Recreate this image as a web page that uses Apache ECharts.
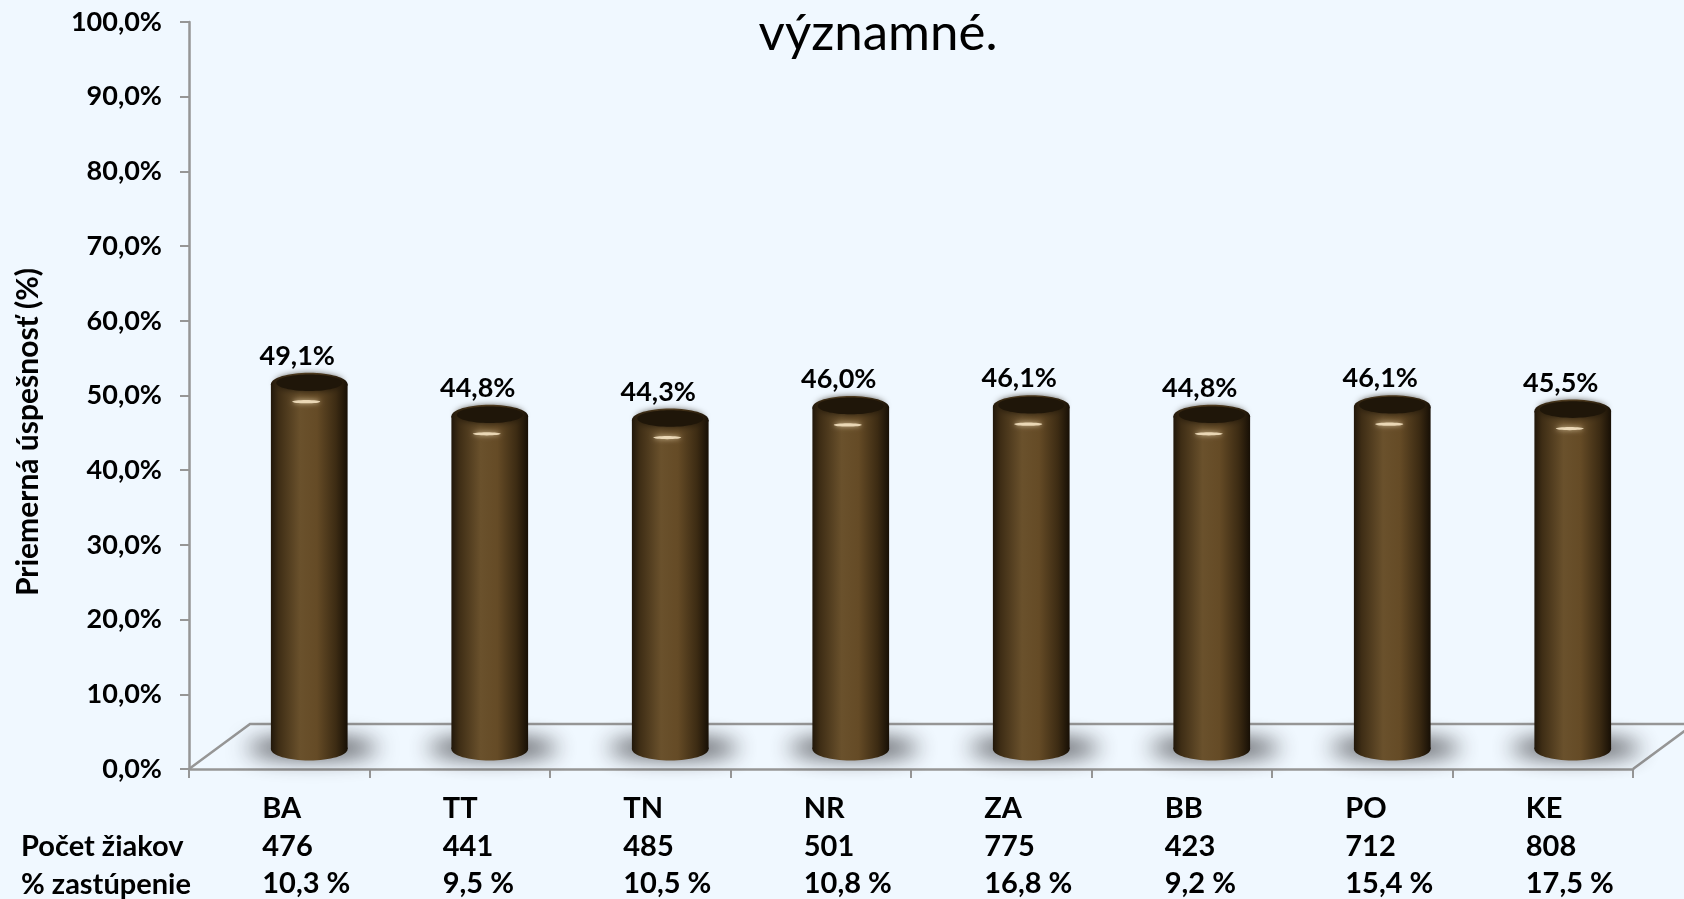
<!DOCTYPE html>
<html><head><meta charset="utf-8">
<script src="https://cdn.jsdelivr.net/npm/echarts@6/dist/echarts.min.js"></script>
<style>html,body{margin:0;padding:0;background:#f0f8ff;}#c{width:1684px;height:899px;}</style>
</head><body><div id="c"></div>
<script>
const categories = ['BA','TT','TN','NR','ZA','BB','PO','KE'];
const successPct = [49.1, 44.8, 44.3, 46.0, 46.1, 44.8, 46.1, 45.5];
const studentCounts = [476, 441, 485, 501, 775, 423, 712, 808];
const sharePct = [10.3, 9.5, 10.5, 10.8, 16.8, 9.2, 15.4, 17.5];
const yTickMin = 0, yTickMax = 100, yTickStep = 10;
const titleText = 'významné.';
const yAxisTitle = 'Priemerná úspešnosť (%)';
const rowTitles = ['Počet žiakov', '% zastúpenie'];

const FONT = 'Lato, Carlito, "Open Sans", sans-serif';
const fmtComma = (v, d) => v.toFixed(d).replace('.', ',');

const chart = echarts.init(document.getElementById('c'), null, {renderer: 'canvas'});

// 3D depth offsets (style)
const FLOOR_DX = 61, FLOOR_DY = -45;
const BAR_DX = 30, BAR_DY = -18;
const frontGrid = {left: 189, right: 51, top: 22, bottom: 130};
const AXIS_COLOR = '#969696';

function floorItem(params, api) {
  if (params.dataIndex !== 0) return null;
  const band = api.size([1, 0])[0];
  const p0 = api.coord([0, 0]);
  const p1 = api.coord([categories.length - 1, 0]);
  const xl = p0[0] - band / 2, xr = p1[0] + band / 2, y = p0[1];
  return {
    type: 'polyline',
    shape: {points: [[xl, y], [xl + FLOOR_DX, y + FLOOR_DY], [xr + FLOOR_DX, y + FLOOR_DY], [xr, y]]},
    style: {stroke: AXIS_COLOR, lineWidth: 2.5, fill: null}
  };
}

const bodyGrad = () => new echarts.graphic.LinearGradient(0, 0, 1, 0, [
  {offset: 0, color: '#21170a'},
  {offset: 0.1, color: '#3e2d15'},
  {offset: 0.38, color: '#6a512c'},
  {offset: 0.6, color: '#654b26'},
  {offset: 0.85, color: '#3c2b13'},
  {offset: 1, color: '#170f05'}
]);

function cylinderItem(params, api) {
  const i = api.value(0);
  const v = api.value(1);
  const band = api.size([1, 0])[0];
  const w = band * 0.425;
  const rx = w / 2, ry = 11.5;
  const top = api.coord([i, v]);
  const base = api.coord([i, 0]);
  const cx = top[0];
  const OFF = 4000;
  const children = [];
  // floor shadow (drawn off-canvas, only its blurred shadow lands on the floor)
  children.push({
    type: 'ellipse',
    shape: {cx: cx + 3 - OFF, cy: base[1] - 3, rx: rx * 1.7, ry: 9},
    style: {fill: '#000', shadowBlur: 22, shadowColor: 'rgba(45,45,50,0.95)', shadowOffsetX: OFF}
  });
  // bottom cap
  children.push({type: 'ellipse', shape: {cx: cx, cy: base[1] - 2, rx: rx, ry: ry}, style: {fill: bodyGrad()}});
  // body
  children.push({type: 'rect', shape: {x: cx - rx, y: top[1], width: w, height: base[1] - 2 - top[1]}, style: {fill: bodyGrad()}});
  // top cap (rounded bevel look)
  children.push({type: 'ellipse', shape: {cx: cx, cy: top[1], rx: rx, ry: ry}, style: {fill: bodyGrad()}});
  children.push({
    type: 'ellipse', shape: {cx: cx, cy: top[1] - 1.5, rx: rx * 0.86, ry: ry * 0.72},
    style: {fill: '#1f1609', shadowBlur: 7, shadowColor: '#1f1609'}
  });
  // highlight streak
  children.push({
    type: 'ellipse', shape: {cx: cx - 3, cy: top[1] + ry + 6, rx: 14, ry: 1.6},
    style: {fill: 'rgba(255,238,205,0.8)', shadowBlur: 5, shadowColor: 'rgba(255,235,200,0.9)'}
  });
  // value label
  children.push({
    type: 'text',
    style: {x: cx - 12, y: top[1] - ry - 3, text: fmtComma(v, 1) + '%', align: 'center', verticalAlign: 'bottom',
      font: 'bold 27px ' + FONT, fill: '#000'}
  });
  // table labels under the axis
  const tx = cx - 47;
  const ty = base[1] + 58;
  const rows = [categories[i], String(studentCounts[i]), fmtComma(sharePct[i], 1) + ' %'];
  rows.forEach((t, k) => {
    children.push({
      type: 'text',
      style: {x: tx, y: ty + k * 37.5, text: t, align: 'left', verticalAlign: 'middle',
        font: 'bold 29px ' + FONT, fill: '#000'}
    });
  });
  return {type: 'group', children: children};
}

const option = {
  backgroundColor: '#f0f8ff',
  animation: false,
  grid: [
    Object.assign({}, frontGrid),
    {left: frontGrid.left + BAR_DX, right: frontGrid.right - BAR_DX, top: frontGrid.top + BAR_DY, bottom: frontGrid.bottom - BAR_DY}
  ],
  xAxis: [
    {type: 'category', gridIndex: 0, data: categories, boundaryGap: true,
      axisLine: {lineStyle: {color: AXIS_COLOR, width: 2.5}},
      axisTick: {show: true, length: 9, lineStyle: {color: AXIS_COLOR, width: 2}},
      axisLabel: {show: false}, splitLine: {show: false}},
    {type: 'category', gridIndex: 1, data: categories, boundaryGap: true, show: false}
  ],
  yAxis: [
    {type: 'value', gridIndex: 0, min: yTickMin, max: yTickMax, interval: yTickStep,
      axisLine: {show: true, lineStyle: {color: AXIS_COLOR, width: 2.5}},
      axisTick: {show: true, length: 9, lineStyle: {color: AXIS_COLOR, width: 2}},
      splitLine: {show: false},
      axisLabel: {margin: 27, formatter: v => fmtComma(v, 1) + '%', fontFamily: FONT, fontWeight: 'bold', fontSize: 27, color: '#000'}},
    {type: 'value', gridIndex: 1, min: yTickMin, max: yTickMax, interval: yTickStep, show: false}
  ],
  series: [
    {type: 'custom', xAxisIndex: 0, yAxisIndex: 0, data: [[0, 0]], renderItem: floorItem, z: 1, silent: true},
    {type: 'custom', xAxisIndex: 1, yAxisIndex: 1, z: 5, clip: false,
      data: successPct.map((v, i) => [i, v]), renderItem: cylinderItem}
  ],
  graphic: [
    {type: 'text', x: 878, y: 34, z: 10,
      style: {text: titleText, align: 'center', verticalAlign: 'middle', font: '51px ' + FONT, fill: '#000'}},
    {type: 'text', x: 28, y: 432, rotation: Math.PI / 2, z: 10,
      style: {text: yAxisTitle, align: 'center', verticalAlign: 'middle', font: 'bold 30px ' + FONT, fill: '#000'}},
    {type: 'text', x: 21, y: 847, z: 10,
      style: {text: rowTitles[0], align: 'left', verticalAlign: 'middle', font: 'bold 29px ' + FONT, fill: '#000'}},
    {type: 'text', x: 21, y: 884.5, z: 10,
      style: {text: rowTitles[1], align: 'left', verticalAlign: 'middle', font: 'bold 29px ' + FONT, fill: '#000'}}
  ]
};
chart.setOption(option);
</script></body></html>
